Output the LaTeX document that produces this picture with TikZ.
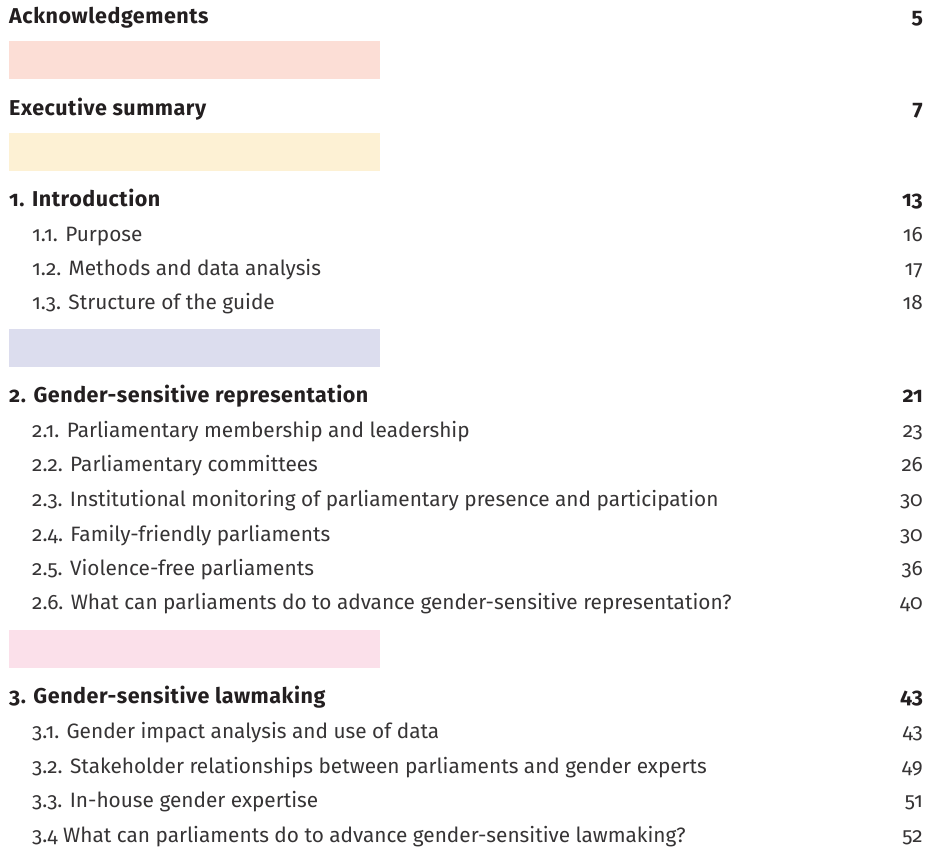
\documentclass[tikz,border=0pt]{standalone}
\usepackage{fontspec}
\setmainfont{Fira Sans}[Numbers=OldStyle]
\definecolor{txtdark}{HTML}{231F20}
\definecolor{txtsub}{HTML}{363435}
\definecolor{barA}{HTML}{FCDED6}
\definecolor{barB}{HTML}{FDF1D4}
\definecolor{barC}{HTML}{DCDDEE}
\definecolor{barD}{HTML}{FBE0EA}
\begin{document}
\begin{tikzpicture}[x=1pt,y=-1pt,
  head/.style={anchor=base west,inner sep=0pt,font=\fontsize{21.5}{24}\selectfont\bfseries\addfontfeature{LetterSpace=2.5},text=txtdark},
  sub/.style={anchor=base west,inner sep=0pt,font=\fontsize{20.8}{24}\selectfont,text=txtsub},
  headnum/.style={anchor=base east,inner sep=0pt,font=\fontsize{21.5}{24}\selectfont\bfseries,text=txtdark},
  subnum/.style={anchor=base east,inner sep=0pt,font=\fontsize{20.8}{24}\selectfont,text=txtsub}]
\useasboundingbox (0,0) rectangle (932,847);
\fill[barA] (9,41) rectangle (380,79);
\fill[barB] (9,133) rectangle (380,171);
\fill[barC] (9,329) rectangle (380,367);
\fill[barD] (9,630) rectangle (380,668);
% headers
\node[head] (h0) at (9,23) {Acknowledgements};
\node[headnum] (p0) at (923,23) {5};
\node[head] (h00) at (9,115) {Executive summary};
\node[headnum] (p00) at (923,115) {7};
\node[head] (h1) at (9,206) {1. Introduction};
\node[headnum] (p1) at (923,206) {13};
\node[sub] (s11) at (32,241) {1.1. Purpose};
\node[subnum] (q11) at (923,241) {16};
\node[sub] (s12) at (32,275) {1.2. Methods and data analysis};
\node[subnum] (q12) at (923,275) {17};
\node[sub] (s13) at (32,309) {1.3. Structure of the guide};
\node[subnum] (q13) at (923,309) {18};
\node[head] (h2) at (9,402) {2. Gender-sensitive representation};
\node[headnum] (p2) at (923,402) {21};
\node[sub] (s21) at (32,437) {2.1. Parliamentary membership and leadership};
\node[subnum] (q21) at (923,437) {23};
\node[sub] (s22) at (32,471) {2.2. Parliamentary committees};
\node[subnum] (q22) at (923,471) {26};
\node[sub] (s23) at (32,506) {2.3. Institutional monitoring of parliamentary presence and participation};
\node[subnum] (q23) at (923,506) {30};
\node[sub] (s24) at (32,541) {2.4. Family-friendly parliaments};
\node[subnum] (q24) at (923,541) {30};
\node[sub] (s25) at (32,575) {2.5. Violence-free parliaments};
\node[subnum] (q25) at (923,575) {36};
\node[sub] (s26) at (32,609) {2.6. What can parliaments do to advance gender-sensitive representation?};
\node[subnum] (q26) at (923,609) {40};
\node[head] (h3) at (9,703) {3. Gender-sensitive lawmaking};
\node[headnum] (p3) at (923,703) {43};
\node[sub] (s31) at (32,738) {3.1. Gender impact analysis and use of data};
\node[subnum] (q31) at (923,738) {43};
\node[sub] (s32) at (32,773) {3.2. Stakeholder relationships between parliaments and gender experts};
\node[subnum] (q32) at (923,773) {49};
\node[sub] (s33) at (32,807) {3.3. In-house gender expertise};
\node[subnum] (q33) at (923,807) {51};
\node[sub] (s34) at (32,842) {3.4 What can parliaments do to advance gender-sensitive lawmaking?};
\node[subnum] (q34) at (923,842) {52};
\end{tikzpicture}
\end{document}
